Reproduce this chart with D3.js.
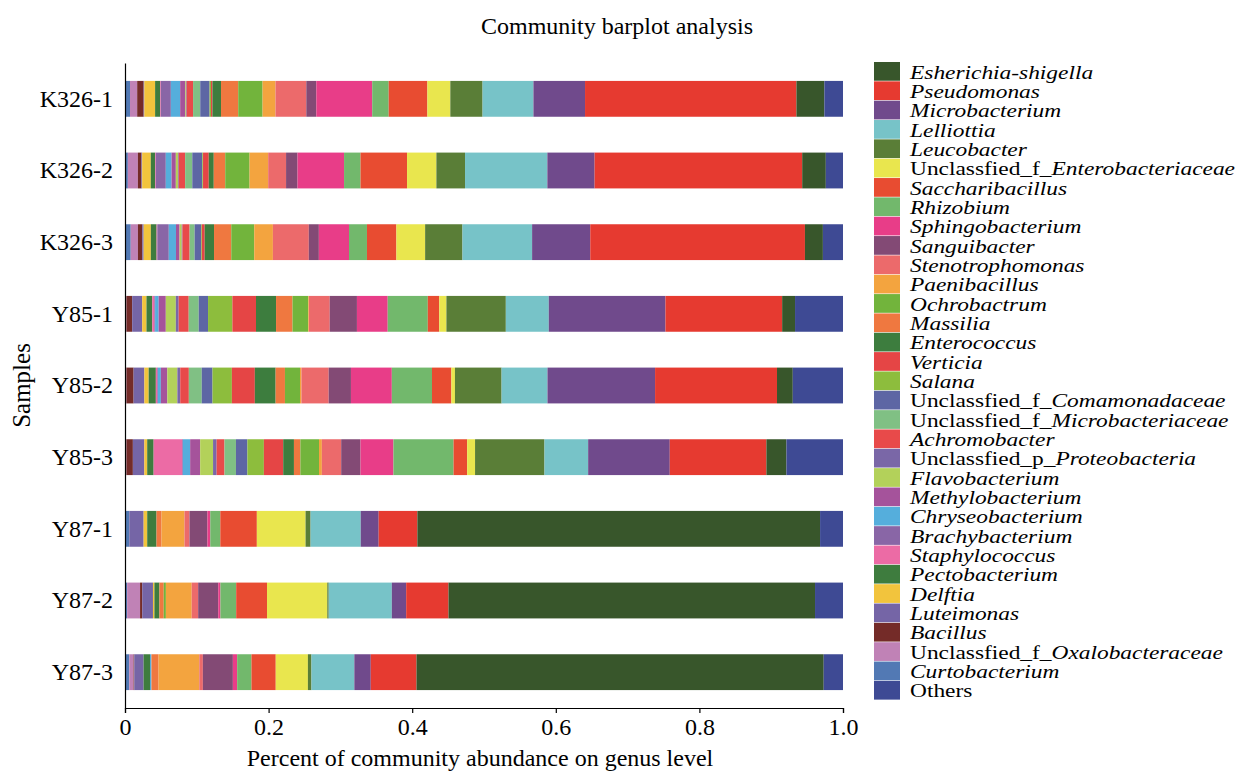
<!DOCTYPE html>
<html>
<head>
<meta charset="utf-8">
<script src="https://cdn.jsdelivr.net/npm/d3@7"></script>
<style>
    body { margin: 0; background: #fff; }
    text { font-family: "Liberation Serif", "DejaVu Serif", serif; fill: #000; }
</style>
</head>
<body>
<div id="chart"></div>
<script>
/*global d3 */

//*************************1. Data

const samples = ["K326-1", "K326-2", "K326-3", "Y85-1", "Y85-2", "Y85-3", "Y87-1", "Y87-2", "Y87-3"]

// legend order, top to bottom. [upright prefix, italic name]
const genera = [
    ["", "Esherichia-shigella"], ["", "Pseudomonas"], ["", "Microbacterium"], ["", "Lelliottia"],
    ["", "Leucobacter"], ["Unclassfied_f_", "Enterobacteriaceae"], ["", "Saccharibacillus"], ["", "Rhizobium"],
    ["", "Sphingobacterium"], ["", "Sanguibacter"], ["", "Stenotrophomonas"], ["", "Paenibacillus"],
    ["", "Ochrobactrum"], ["", "Massilia"], ["", "Enterococcus"], ["", "Verticia"], ["", "Salana"],
    ["Unclassfied_f_", "Comamonadaceae"], ["Unclassfied_f_", "Microbacteriaceae"], ["", "Achromobacter"],
    ["Unclassfied_p_", "Proteobacteria"], ["", "Flavobacterium"], ["", "Methylobacterium"], ["", "Chryseobacterium"],
    ["", "Brachybacterium"], ["", "Staphylococcus"], ["", "Pectobacterium"], ["", "Delftia"],
    ["", "Luteimonas"], ["", "Bacillus"], ["Unclassfied_f_", "Oxalobacteraceae"], ["", "Curtobacterium"],
    ["Others", ""]
]

const colors = ["#38562b", "#e63a30", "#704a8c", "#77c3c8", "#5a7e37", "#e9e64e", "#e84c31", "#72b86c",
    "#e83d88", "#834a75", "#ec6a6b", "#f3a43f", "#72b43c", "#ef7840", "#3d7d3e", "#e54545", "#8dbd3d",
    "#5d66a4", "#80c084", "#e84a4a", "#7a67a7", "#b3d15a", "#a5539b", "#55aedc", "#8966a6", "#ec6ba5",
    "#3e7c3e", "#f2c43d", "#7565a6", "#742b28", "#c082b6", "#5279b4", "#3e4a94"]

// abundances per sample, same order as genera
const k326_1 = [0.039, 0.295, 0.072, 0.071, 0.045, 0.032, 0.054, 0.023, 0.078, 0.014, 0.043, 0.018, 0.034, 0.024, 0.012, 0.002, 0.002, 0.013, 0.010, 0.009, 0.001, 0.001, 0.007, 0.013, 0.014, 0.001, 0.007, 0.015, 0.001, 0.009, 0.010, 0.007, 0.026]
const k326_2 = [0.033, 0.290, 0.066, 0.115, 0.040, 0.041, 0.065, 0.023, 0.065, 0.016, 0.025, 0.026, 0.034, 0.016, 0.007, 0.008, 0.001, 0.014, 0.010, 0.009, 0.001, 0.003, 0.006, 0.008, 0.014, 0.001, 0.006, 0.012, 0.001, 0.005, 0.014, 0.004, 0.024]
const k326_3 = [0.025, 0.299, 0.081, 0.097, 0.052, 0.040, 0.041, 0.025, 0.042, 0.014, 0.050, 0.026, 0.032, 0.024, 0.013, 0.004, 0.001, 0.009, 0.007, 0.010, 0.001, 0.003, 0.005, 0.010, 0.016, 0.001, 0.008, 0.010, 0.002, 0.006, 0.010, 0.008, 0.028]
const y85_1 = [0.018, 0.163, 0.163, 0.060, 0.083, 0.010, 0.016, 0.056, 0.043, 0.038, 0.029, 0.001, 0.022, 0.023, 0.028, 0.033, 0.034, 0.013, 0.014, 0.014, 0.004, 0.014, 0.010, 0.005, 0.001, 0.003, 0.008, 0.006, 0.014, 0.008, 0.001, 0.001, 0.067]
const y85_2 = [0.022, 0.170, 0.150, 0.064, 0.065, 0.005, 0.027, 0.056, 0.057, 0.031, 0.038, 0.002, 0.021, 0.013, 0.029, 0.032, 0.027, 0.015, 0.018, 0.012, 0.004, 0.014, 0.009, 0.004, 0.001, 0.002, 0.010, 0.006, 0.015, 0.010, 0.001, 0.001, 0.070]
const y85_3 = [0.028, 0.135, 0.114, 0.061, 0.097, 0.011, 0.019, 0.084, 0.046, 0.027, 0.027, 0.004, 0.026, 0.009, 0.015, 0.027, 0.023, 0.016, 0.016, 0.011, 0.005, 0.018, 0.014, 0.010, 0.001, 0.040, 0.009, 0.004, 0.016, 0.009, 0.001, 0.001, 0.079]
const y87_1 = [0.562, 0.054, 0.025, 0.070, 0.007, 0.068, 0.051, 0.014, 0.004, 0.025, 0.007, 0.032, 0, 0.007, 0, 0, 0, 0, 0, 0, 0, 0, 0, 0, 0, 0, 0.013, 0.005, 0.020, 0, 0, 0.006, 0.032]
const y87_2 = [0.511, 0.059, 0.020, 0.088, 0.002, 0.084, 0.043, 0.022, 0.003, 0.028, 0.009, 0.036, 0.003, 0.006, 0, 0, 0, 0, 0, 0, 0, 0, 0, 0, 0, 0, 0.007, 0.002, 0.015, 0.003, 0.018, 0.003, 0.039]
const y87_3 = [0.570, 0.064, 0.023, 0.060, 0.005, 0.045, 0.034, 0.020, 0.006, 0.042, 0.005, 0.057, 0, 0.010, 0, 0, 0, 0, 0, 0, 0, 0, 0, 0.002, 0, 0, 0.009, 0, 0.013, 0.001, 0.006, 0.006, 0.027]

const sampleValues = [k326_1, k326_2, k326_3, y85_1, y85_2, y85_3, y87_1, y87_2, y87_3]

const xTicks = [0, 0.2, 0.4, 0.6, 0.8, 1.0]

//*************************2. Dimensions

const dimensions = {
    width: 1245,
    height: 772,
    margin: { top: 63, right: 402, bottom: 64, left: 125 }
}
dimensions.boundedWidth = dimensions.width - dimensions.margin.left - dimensions.margin.right
dimensions.boundedHeight = dimensions.height - dimensions.margin.top - dimensions.margin.bottom

const wrapper = d3.select("#chart")
    .append("svg")
    .attr("width", dimensions.width)
    .attr("height", dimensions.height)

const bounds = wrapper.append("g")
    .attr("transform", `translate(${dimensions.margin.left}, ${dimensions.margin.top})`)

//*************************3. Table + stack

const keys = genera.map((g, i) => i)
const table = samples.map((s, si) => {
    const row = { sample: s }
    keys.forEach(k => { row[k] = sampleValues[si][k] })
    return row
})

// left to right: last legend genus first ... Esherichia, then Others at the end
const stackKeys = d3.range(genera.length - 2, -1, -1).concat([genera.length - 1])

const series = d3.stack()
    .keys(stackKeys)
    .offset(d3.stackOffsetExpand)(table)

//*************************4. Scales

const xScale = d3.scaleLinear()
    .domain([0, 1])
    .range([0, dimensions.boundedWidth])

const yScale = d3.scaleBand()
    .domain(samples)
    .range([0, dimensions.boundedHeight])
    .paddingInner(0.5)
    .paddingOuter(0.25)

//*************************5. Bars

bounds.append("g")
    .selectAll("g")
    .data(series)
    .join("g")
    .attr("fill", d => colors[d.key])
    .selectAll("rect")
    .data(d => d)
    .join("rect")
    .attr("x", d => xScale(d[0]))
    .attr("width", d => Math.max(0, xScale(d[1]) - xScale(d[0])))
    .attr("y", d => yScale(d.data.sample))
    .attr("height", yScale.bandwidth())

//*************************6. Axes

const xAxis = bounds.append("g")
    .attr("transform", `translate(0, ${dimensions.boundedHeight})`)
    .call(d3.axisBottom(xScale).tickValues(xTicks).tickFormat(d3.format(".1f")).tickSize(5).tickPadding(5))
xAxis.selectAll(".tick").filter(d => d === 0).select("text").text("0")

const yAxis = bounds.append("g")
    .call(d3.axisLeft(yScale).tickSize(0).tickPadding(12))

bounds.selectAll(".domain, .tick line").attr("stroke", "#000").attr("stroke-width", 1.2)
bounds.selectAll(".tick text").style("font-size", "24px").attr("fill", "#000")

// titles
wrapper.append("text")
    .attr("x", 617)
    .attr("y", 34)
    .attr("text-anchor", "middle")
    .style("font-size", "24px")
    .text("Community barplot analysis")

wrapper.append("text")
    .attr("x", 480)
    .attr("y", 766)
    .attr("text-anchor", "middle")
    .style("font-size", "24px")
    .text("Percent of community abundance on genus level")

wrapper.append("text")
    .attr("transform", `translate(30, ${dimensions.margin.top + dimensions.boundedHeight / 2}) rotate(-90)`)
    .attr("text-anchor", "middle")
    .style("font-size", "25px")
    .text("Samples")

//*************************7. Legend

const legendRow = 19.34
const legend = wrapper.append("g")
    .attr("transform", "translate(874, 62)")

const items = legend.selectAll("g")
    .data(genera)
    .join("g")
    .attr("transform", (d, i) => `translate(0, ${i * legendRow})`)

items.append("rect")
    .attr("width", 26)
    .attr("height", legendRow - 0.6)
    .attr("fill", (d, i) => colors[i])

// text is wide but short in the original, so stretch it sideways
const labels = items.append("text")
    .attr("transform", `translate(36, ${legendRow / 2}) scale(1.2, 1)`)
    .attr("dy", "0.35em")
    .style("font-size", "19.5px")

labels.append("tspan").text(d => d[0])
labels.append("tspan").style("font-style", "italic").text(d => d[1])
</script>
</body>
</html>
